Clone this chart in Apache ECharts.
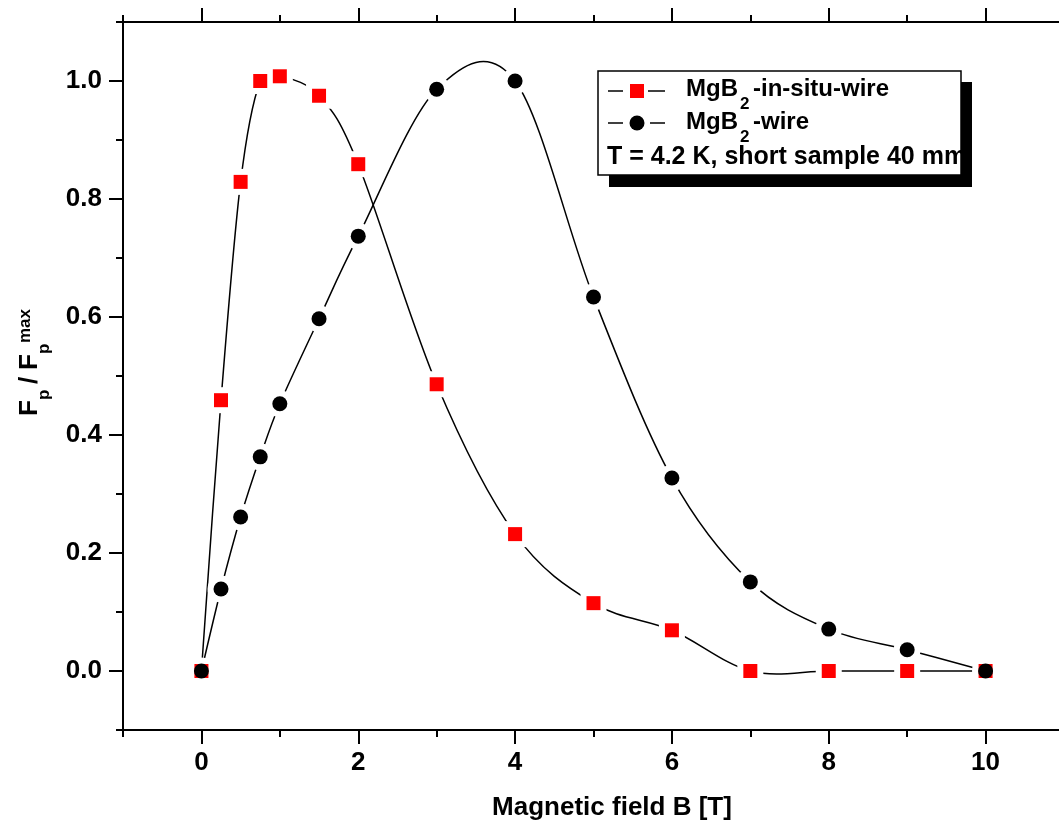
<!DOCTYPE html>
<html>
<head>
<meta charset="utf-8">
<script src="https://cdn.jsdelivr.net/npm/echarts@6/dist/echarts.min.js"></script>
<style>
  html, body { margin: 0; padding: 0; background: #fff; }
  #chart { width: 1059px; height: 829px; }
</style>
</head>
<body>
<div id="chart"></div>
<script>
// data
var fieldInSitu = [0, 0.25, 0.5, 0.75, 1, 1.5, 2, 3, 4, 5, 6, 7, 8, 9, 10];
var fpInSitu = [0, 0.459, 0.829, 1.0, 1.008, 0.975, 0.859, 0.486, 0.232, 0.115, 0.069, 0, 0, 0, 0];
var fieldWire = [0, 0.25, 0.5, 0.75, 1, 1.5, 2, 3, 4, 5, 6, 7, 8, 9, 10];
var fpWire = [0, 0.139, 0.261, 0.363, 0.453, 0.597, 0.737, 0.986, 1.0, 0.634, 0.327, 0.151, 0.071, 0.036, 0];

// ticks
var xMajor = [0, 2, 4, 6, 8, 10];
var xMinor = [-1, 1, 3, 5, 7, 9, 11];
var yMajor = [0, 0.2, 0.4, 0.6, 0.8, 1.0];
var yMinor = [-0.1, 0.1, 0.3, 0.5, 0.7, 0.9, 1.1];

var FONT = 'Liberation Sans, Arial, sans-serif';

function zip(xs, ys) {
  return xs.map(function (x, i) { return [x, ys[i]]; });
}

// one axis: line + ticks (+ labels when asked)
function makeAxis(pos, min, max, ticks, len, withLabels, withLine, fmt) {
  return {
    type: 'value',
    position: pos,
    min: min,
    max: max,
    axisLine: { show: withLine, onZero: false, lineStyle: { color: '#000', width: 2 } },
    axisTick: { show: true, inside: false, length: len, customValues: ticks,
                lineStyle: { color: '#000', width: 2 } },
    axisLabel: { show: withLabels, customValues: ticks, margin: pos == 'left' ? 21 : 20,
                 color: '#000', fontSize: 26, fontWeight: 'bold', fontFamily: FONT,
                 formatter: fmt },
    splitLine: { show: false }
  };
}

// spline through the points (catmull-rom in screen space, like origin's spline)
function splineSeries(xs, ys) {
  return {
    type: 'custom',
    data: zip(xs, ys),
    encode: { x: 0, y: 1 },
    z: 1,
    renderItem: function (params, api) {
      var i = params.dataIndex, n = xs.length;
      if (i >= n - 1) return null;
      var p = function (j) {
        j = Math.max(0, Math.min(n - 1, j));
        return api.coord([xs[j], ys[j]]);
      };
      var p0 = p(i - 1), p1 = p(i), p2 = p(i + 1), p3 = p(i + 2);
      return {
        type: 'bezierCurve',
        shape: {
          x1: p1[0], y1: p1[1], x2: p2[0], y2: p2[1],
          cpx1: p1[0] + (p2[0] - p0[0]) / 6, cpy1: p1[1] + (p2[1] - p0[1]) / 6,
          cpx2: p2[0] - (p3[0] - p1[0]) / 6, cpy2: p2[1] - (p3[1] - p1[1]) / 6
        },
        style: { stroke: '#000', lineWidth: 1.5, fill: null }
      };
    }
  };
}

// white halo under the symbols -> the line gaps origin draws
function haloSeries(xs, ys, sym, size) {
  return {
    type: 'scatter', data: zip(xs, ys), symbol: sym, symbolSize: size, z: 2,
    itemStyle: { color: '#fff', opacity: 1 }, silent: true
  };
}

var chart = echarts.init(document.getElementById('chart'));

var option = {
  animation: false,
  backgroundColor: '#fff',
  grid: { left: 123, top: 22, width: 941, height: 708, containLabel: false, outerBoundsMode: 'none' },
  xAxis: [
    makeAxis('bottom', -1, 11, xMajor, 14, true, true, function (v) { return String(v); }),
    makeAxis('bottom', -1, 11, xMinor, 7, false, false),
    makeAxis('top', -1, 11, xMajor, 14, false, true),
    makeAxis('top', -1, 11, xMinor, 7, false, false)
  ],
  yAxis: [
    makeAxis('left', -0.1, 1.1, yMajor, 14, true, true, function (v) { return v.toFixed(1); }),
    makeAxis('left', -0.1, 1.1, yMinor, 7, false, false)
  ],
  series: [
    splineSeries(fieldInSitu, fpInSitu),
    splineSeries(fieldWire, fpWire),
    haloSeries(fieldInSitu, fpInSitu, 'rect', 26),
    haloSeries(fieldWire, fpWire, 'circle', 27),
    {
      name: 'MgB2-in-situ-wire',
      type: 'scatter',
      data: zip(fieldInSitu, fpInSitu),
      symbol: 'rect',
      symbolSize: 14,
      z: 3,
      itemStyle: { color: '#ff0000', opacity: 1 }
    },
    {
      name: 'MgB2-wire',
      type: 'scatter',
      data: zip(fieldWire, fpWire),
      symbol: 'circle',
      symbolSize: 15,
      z: 4,
      itemStyle: { color: '#000', opacity: 1 }
    }
  ],
  graphic: [
    // x axis title
    { type: 'text', x: 612, y: 808, style: { text: 'Magnetic field B [T]', fill: '#000',
      font: 'bold 26px ' + FONT, align: 'center', verticalAlign: 'middle' } },
    // y axis title, rotated
    { type: 'group', x: 30, y: 416, rotation: Math.PI / 2, children: [
      { type: 'text', x: 0, y: 0, style: { text: 'F', fill: '#000', font: 'bold 26px ' + FONT, verticalAlign: 'middle' } },
      { type: 'text', x: 16, y: 14, style: { text: 'p', fill: '#000', font: 'bold 17px ' + FONT, verticalAlign: 'middle' } },
      { type: 'text', x: 32, y: 0, style: { text: '/', fill: '#000', font: 'bold 26px ' + FONT, verticalAlign: 'middle' } },
      { type: 'text', x: 46, y: 0, style: { text: 'F', fill: '#000', font: 'bold 26px ' + FONT, verticalAlign: 'middle' } },
      { type: 'text', x: 62, y: 14, style: { text: 'p', fill: '#000', font: 'bold 17px ' + FONT, verticalAlign: 'middle' } },
      { type: 'text', x: 73, y: -5, style: { text: 'max', fill: '#000', font: 'bold 17px ' + FONT, verticalAlign: 'middle' } }
    ] },
    // legend box with its hard shadow
    { type: 'rect', shape: { x: 609, y: 82, width: 363, height: 105 }, style: { fill: '#000' }, z: 10 },
    { type: 'rect', shape: { x: 598, y: 71, width: 363, height: 104 }, style: { fill: '#fff', stroke: '#000', lineWidth: 1.5 }, z: 11 },
    { type: 'line', shape: { x1: 608, y1: 91, x2: 623, y2: 91 }, style: { stroke: '#000', lineWidth: 1.5 }, z: 12 },
    { type: 'line', shape: { x1: 648, y1: 91, x2: 665, y2: 91 }, style: { stroke: '#000', lineWidth: 1.5 }, z: 12 },
    { type: 'rect', shape: { x: 630, y: 84, width: 14, height: 14 }, style: { fill: '#ff0000' }, z: 12 },
    { type: 'line', shape: { x1: 608, y1: 123, x2: 623, y2: 123 }, style: { stroke: '#000', lineWidth: 1.5 }, z: 12 },
    { type: 'line', shape: { x1: 650, y1: 123, x2: 665, y2: 123 }, style: { stroke: '#000', lineWidth: 1.5 }, z: 12 },
    { type: 'circle', shape: { cx: 637, cy: 123, r: 7.5 }, style: { fill: '#000' }, z: 12 },
    { type: 'text', x: 686, y: 89, z: 12, style: { text: 'MgB', fill: '#000', font: 'bold 24px ' + FONT, verticalAlign: 'middle' } },
    { type: 'text', x: 740, y: 104, z: 12, style: { text: '2', fill: '#000', font: 'bold 17px ' + FONT, verticalAlign: 'middle' } },
    { type: 'text', x: 753, y: 89, z: 12, style: { text: '-in-situ-wire', fill: '#000', font: 'bold 24px ' + FONT, verticalAlign: 'middle' } },
    { type: 'text', x: 686, y: 122, z: 12, style: { text: 'MgB', fill: '#000', font: 'bold 24px ' + FONT, verticalAlign: 'middle' } },
    { type: 'text', x: 740, y: 137, z: 12, style: { text: '2', fill: '#000', font: 'bold 17px ' + FONT, verticalAlign: 'middle' } },
    { type: 'text', x: 753, y: 122, z: 12, style: { text: '-wire', fill: '#000', font: 'bold 24px ' + FONT, verticalAlign: 'middle' } },
    { type: 'text', x: 607, y: 157, z: 12, style: { text: 'T = 4.2 K, short sample 40 mm', fill: '#000', font: 'bold 25px ' + FONT, verticalAlign: 'middle' } }
  ]
};

chart.setOption(option);
</script>
</body>
</html>
